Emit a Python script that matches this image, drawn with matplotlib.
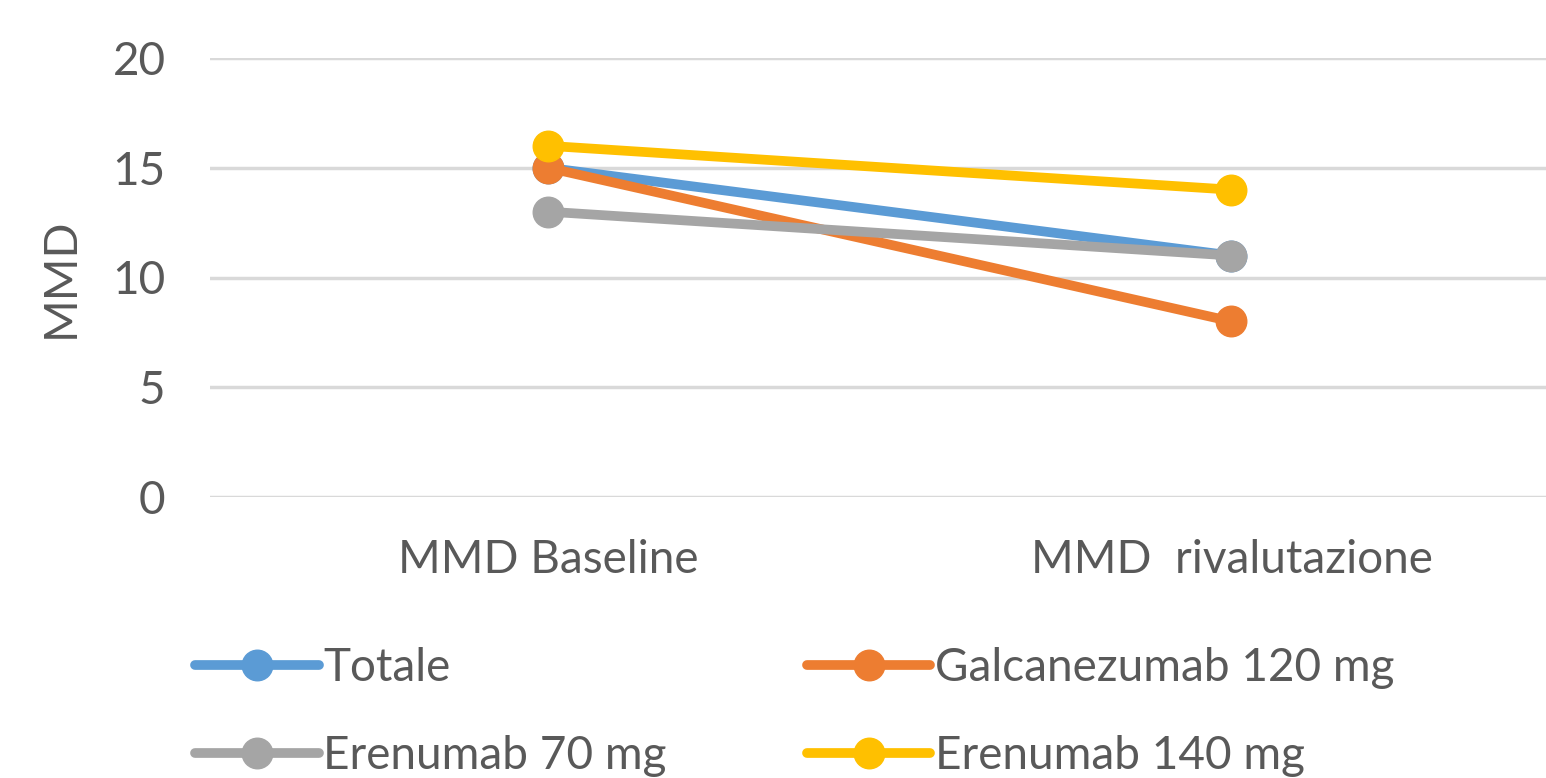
import matplotlib.pyplot as plt

categories = ['MMD Baseline', 'MMD  rivalutazione']
totale = [15, 11]
galcanezumab_120 = [15, 8]
erenumab_70 = [13, 11]
erenumab_140 = [16, 14]

series = [
    ('Totale', totale, '#5B9BD5'),
    ('Galcanezumab 120 mg', galcanezumab_120, '#ED7D31'),
    ('Erenumab 70 mg', erenumab_70, '#A5A5A5'),
    ('Erenumab 140 mg', erenumab_140, '#FFC000'),
]

plt.rcParams['font.family'] = ['Lato', 'DejaVu Sans']
text_col = '#595959'

fig = plt.figure(figsize=(15.46, 7.78), dpi=100)
ax = fig.add_axes([210 / 1546, 1 - 497 / 778, 1336 / 1546, 439 / 778])

x = list(range(len(categories)))
lines = []
for name, vals, col in series:
    ln, = ax.plot(x, vals, color=col, lw=7, marker='o', ms=22,
                  solid_capstyle='round', label=name)
    lines.append(ln)

ax.set_xlim(-0.494, 1.46)
ax.set_ylim(0, 20)
ax.set_yticks([0, 5, 10, 15, 20])
ax.set_xticks(x)
ax.set_xticklabels(categories)
ax.tick_params(axis='both', length=0, labelsize=33, labelcolor=text_col)
ax.tick_params(axis='x', pad=30)
ax.tick_params(axis='y', pad=32)
ax.grid(axis='y', color='#D9D9D9', lw=2.5)
ax.set_axisbelow(True)
for s in ax.spines.values():
    s.set_visible(False)
ax.set_ylabel('MMD', fontsize=33, color=text_col, labelpad=22)

# legend fills column by column, so reorder to get row order
order = [0, 2, 1, 3]
fig.legend([lines[i] for i in order], [series[i][0] for i in order],
           loc='upper left', bbox_to_anchor=(195 / 1546, 1 - 647 / 778), ncol=2,
           frameon=False, fontsize=33, labelcolor=text_col, handlelength=2.7,
           handletextpad=0.1, columnspacing=3.05, labelspacing=1.0,
           borderpad=0, borderaxespad=0)

fig.savefig('out.png', dpi=100)
